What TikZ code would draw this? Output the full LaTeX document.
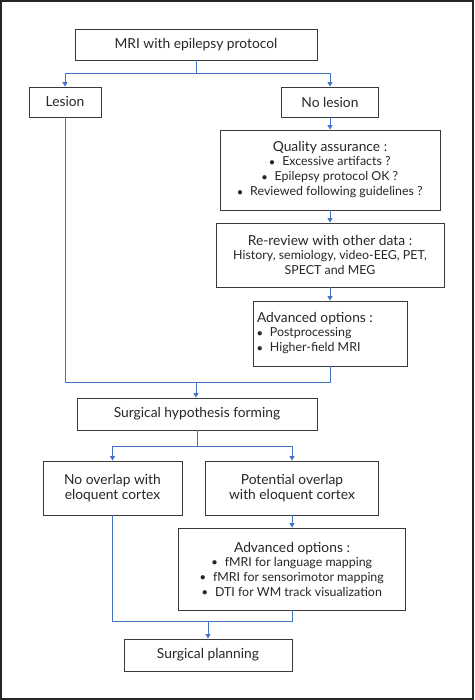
\documentclass[tikz,border=0pt]{standalone}
\usepackage{fontspec}
\setmainfont{Lato}
\usetikzlibrary{arrows.meta}
\definecolor{conncol}{HTML}{4472C4}
\definecolor{boxcol}{HTML}{3A3A3A}
\tikzset{
  box/.style={draw=boxcol, line width=0.9pt, inner sep=2pt, align=center, font=\fontsize{13.8}{15}\selectfont, text=black!85},
  conn/.style={draw=conncol, line width=0.9pt},
  arr/.style={conn, -{Triangle[width=5pt,length=4.5pt]}}
}
\newcommand{\sm}{\fontsize{12.4}{14.5}\selectfont}
\newcommand{\bul}{{\fontsize{11}{11}\selectfont\raisebox{0.3pt}{$\bullet$}}\hspace{0.6em}}
\begin{document}
\begin{tikzpicture}[x=1pt,y=-1pt]
\useasboundingbox (0,0) rectangle (474,700);
\draw[black!85, line width=1.6pt] (0.8,0.8) rectangle (473.2,699.2);
\node[box, minimum width=242pt, minimum height=31pt] (mri) at (196,44.5) {MRI with epilepsy protocol};
\node[box, minimum width=72pt, minimum height=30pt] (lesion) at (65,102) {Lesion};
\node[box, minimum width=97pt, minimum height=30pt] (nolesion) at (330,102) {No lesion};
\node[box, minimum width=220pt, minimum height=80pt] (qa) at (330,170) {Quality assurance :\\[-1pt]{\sm \bul Excessive artifacts ?}\\{\sm \bul Epilepsy protocol OK ?}\\{\sm \bul Reviewed following guidelines ?}};
\node[box, minimum width=228pt, minimum height=64pt] (rr) at (330,255) {Re-review with other data :\\[-1pt]{\sm History, semiology, video-EEG, PET,}\\{\sm SPECT and MEG}};
\node[box, minimum height=65pt, text width=146pt, inner xsep=4pt, align=flush left] (adv1) at (330,333.5) {Advanced options :\\[-1pt]{\sm \bul Postprocessing}\\{\sm \bul Higher-field MRI}};
\node[box, minimum width=240pt, minimum height=32pt] (hyp) at (197,414) {Surgical hypothesis forming};
\node[box, minimum width=139pt, minimum height=54pt] (noov) at (112.5,488) {No overlap with\\eloquent cortex};
\node[box, minimum width=173pt, minimum height=54pt] (pot) at (292,488) {Potential overlap\\with eloquent cortex};
\node[box, minimum width=227pt, minimum height=82pt] (adv2) at (292,569) {Advanced options :\\[-1pt]{\sm \bul fMRI for language mapping}\\{\sm \bul fMRI for sensorimotor mapping}\\{\sm \bul DTI for WM track visualization}};
\node[box, minimum width=168pt, minimum height=32pt] (plan) at (208,655) {Surgical planning};
% connectors
\coordinate (s1) at (196,73);
\draw[conn] (mri.south) -- (s1);
\draw[arr] (s1) -| (lesion.north);
\draw[arr] (s1) -| (nolesion.north);
\draw[arr] (nolesion.south) -- (qa.north);
\draw[arr] (qa.south) -- (rr.north);
\draw[arr] (rr.south) -- (adv1.north);
\coordinate (j1) at (65,382);
\draw[conn] (lesion.south) -- (j1) -| (adv1.south);
\coordinate (j1m) at (196,382);
\draw[arr] (j1m) -- (hyp.north -| j1m);
\coordinate (s2) at (197,446);
\draw[conn] (hyp.south) -- (s2);
\draw[arr] (s2) -| (noov.north);
\draw[arr] (s2) -| (pot.north);
\draw[arr] (pot.south) -- (adv2.north);
\coordinate (j2) at (112.5,621);
\draw[conn] (noov.south) -- (j2) -| (adv2.south);
\coordinate (j2m) at (208,621);
\draw[arr] (j2m) -- (plan.north);
\end{tikzpicture}
\end{document}
